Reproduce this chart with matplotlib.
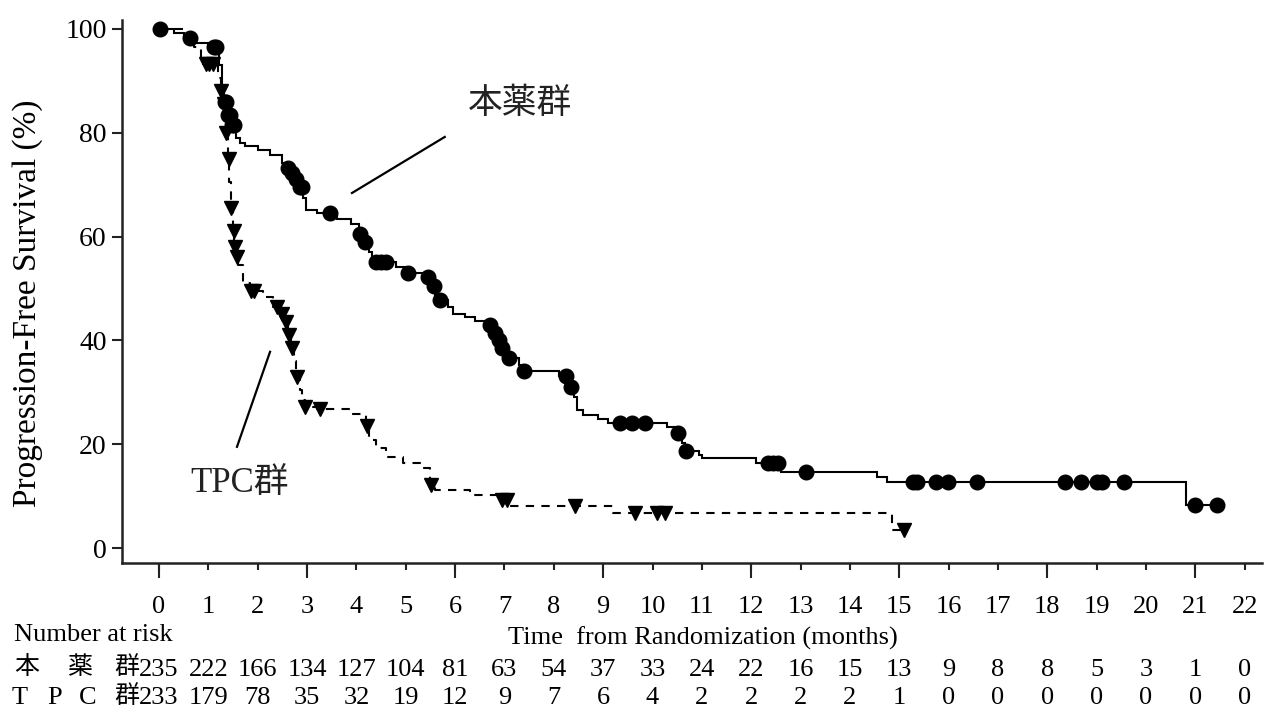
import matplotlib
matplotlib.use("Agg")
import numpy as np
import matplotlib.pyplot as plt
from matplotlib.transforms import blended_transform_factory

# ---------------- data ----------------
months = list(range(23))
risk_drug = [235, 222, 166, 134, 127, 104, 81, 63, 54, 37, 33, 24, 22, 16, 15, 13, 9, 8, 8, 5, 3, 1, 0]
risk_tpc = [233, 179, 78, 35, 32, 19, 12, 9, 7, 6, 4, 2, 2, 2, 2, 1, 0, 0, 0, 0, 0, 0, 0]

drug_t = [0, 0.3, 0.5, 0.75, 1.0, 1.22, 1.27, 1.32, 1.38, 1.45, 1.55, 1.65, 1.75, 2.0, 2.25,
          2.5, 2.6, 2.68, 2.76, 2.83, 2.92, 2.97, 3.2, 3.6, 3.9, 4.05, 4.15, 4.25, 4.32, 4.8,
          5.0, 5.4, 5.5, 5.6, 5.7, 5.85, 5.95, 6.2, 6.4, 6.6, 6.75, 6.85, 6.95, 7.05, 7.3, 7.38,
          8.1, 8.3, 8.4, 8.47, 8.6, 8.9, 9.1, 10.3, 10.5, 10.6, 10.65, 10.95, 11.0, 12.1, 12.6,
          14.55, 14.75, 20.8, 21.43]
drug_s = [100, 99.2, 98.3, 97.3, 96.5, 93, 89, 86, 83.5, 81.5, 79, 78, 77.5, 76.7, 75.8,
          74.2, 73.2, 72.2, 71, 69.5, 67.5, 65.2, 64.5, 63.4, 62.5, 60.5, 59, 57, 55.1, 54.2,
          53, 52.2, 50.5, 48.8, 47.8, 46.5, 45, 44.5, 43.8, 43, 41.5, 40, 38.5, 36.6, 35.2, 34.1,
          33.2, 31, 29, 26.6, 25.6, 24.9, 24.1, 23.3, 22.1, 20.3, 18.7, 17.9, 17.3, 16.4, 14.6,
          13.7, 12.7, 8.3, 8.3]
drug_cens_t = [0.02, 0.63, 1.12, 1.16, 1.33, 1.36, 1.40, 1.43, 1.47, 1.52, 2.62, 2.70, 2.78,
               2.85, 2.90, 3.46, 4.07, 4.17, 4.40, 4.50, 4.60, 5.04, 5.45, 5.58, 5.70, 6.70,
               6.80, 6.88, 6.95, 7.10, 7.40, 8.25, 8.35, 9.35, 9.58, 9.85, 10.52, 10.68, 12.35,
               12.45, 12.55, 13.10, 15.28, 15.36, 15.74, 15.98, 16.57, 18.36, 18.68, 19.00,
               19.10, 19.55, 21.00, 21.43]

tpc_t = [0, 0.5, 0.7, 0.85, 1.2, 1.25, 1.3, 1.35, 1.4, 1.42, 1.45, 1.5, 1.52, 1.55, 1.6,
         1.7, 1.85, 2.1, 2.3, 2.45, 2.55, 2.62, 2.68, 2.73, 2.78, 2.85, 2.9, 2.95, 3.2, 3.9,
         4.2, 4.25, 4.4, 4.6, 4.95, 5.3, 5.5, 5.6, 6.3, 6.9, 7.1, 9.2, 14.85, 15.1]
tpc_s = [100, 98.5, 96.5, 93.3, 90.5, 88, 85.5, 80, 75, 70.5, 65.5, 61, 58, 56, 54.5,
         51, 49.5, 48.3, 46.5, 45, 43.5, 41, 38.5, 36, 33, 30.5, 28.5, 27.2, 26.8, 25.8,
         23.5, 20.8, 19.3, 17.5, 16.4, 15.4, 12.1, 11.2, 10.2, 9.2, 8.1, 6.7, 3.5, 3.5]
tpc_cens_t = [0.95, 1.02, 1.10, 1.26, 1.31, 1.36, 1.41, 1.46, 1.51, 1.53, 1.58, 1.86, 1.93,
              2.40, 2.50, 2.58, 2.64, 2.70, 2.80, 2.96, 3.26, 4.21, 5.52, 6.95, 7.05, 8.43,
              9.64, 10.10, 10.25, 15.10]


def step_value(ts, ss, x):
    idx = np.searchsorted(ts, x, side="right") - 1
    return np.asarray(ss)[idx]


plt.rcParams["font.family"] = ["Liberation Serif", "Noto Sans CJK JP"]

W, H = 1272, 709
fig = plt.figure(figsize=(W / 100, H / 100), dpi=100)
ax = fig.add_axes([122 / W, 146 / H, 1140 / W, 543 / H])
ax.set_xlim(-0.75, 22.35)
ax.set_ylim(-2.89, 101.73)

# curves
ax.step(drug_t, drug_s, where="post", color="black", lw=1.5, solid_joinstyle="miter")
ax.step(tpc_t, tpc_s, where="post", color="black", lw=1.5, linestyle=(0, (4, 3.5)))
ax.plot(drug_cens_t, step_value(drug_t, drug_s, drug_cens_t), "o", color="black", ms=10.5,
        linestyle="none")
ax.plot(tpc_cens_t, step_value(tpc_t, tpc_s, tpc_cens_t), "v", color="black", ms=10.5,
        linestyle="none")

# annotations
ax.plot([3.91, 5.79], [68.4, 79.2], color="black", lw=1.6)
ax.text(7.31, 85.4, "本薬群", fontsize=25, ha="center", va="center", color="#222222")
ax.plot([1.58, 2.25], [19.5, 37.8], color="black", lw=1.6)
ax.text(1.64, 12.5, "TPC群", fontsize=25, ha="center", va="center", color="#222222")

# axes styling
for s in ["top", "right"]:
    ax.spines[s].set_visible(False)
for s in ["left", "bottom"]:
    ax.spines[s].set_linewidth(1.8)
    ax.spines[s].set_color("#222222")

ax.set_yticks([0, 20, 40, 60, 80, 100])
ax.tick_params(axis="y", direction="out", length=7, width=1.5, labelsize=20, pad=4,
               color="#222222")
ax.set_xticks(months)
ax.set_xticklabels([str(m) for m in months])
ax.set_xticks([0, 3, 6, 9, 12, 15, 18, 21], minor=True)
ax.xaxis.remove_overlapping_locs = False
ax.tick_params(axis="x", which="major", direction="out", length=5, width=1.5, labelsize=19,
               pad=18.5, color="#222222")
ax.tick_params(axis="x", which="minor", direction="out", length=10.5, width=1.5,
               color="#222222")

# labels
fig.text(28 / W, 1 - 303 / H, "Progression-Free Survival (%)", rotation=90, fontsize=24,
         ha="center", va="center")
fig.text(703 / W, 1 - 638 / H, "Time  from Randomization (months)", fontsize=19,
         ha="center", va="center")
fig.text(14 / W, 1 - 635 / H, "Number at risk", fontsize=19, ha="left", va="center")

# number at risk table
tr = blended_transform_factory(ax.transData, fig.transFigure)
for m, a, b in zip(months, risk_drug, risk_tpc):
    ax.text(m, 1 - 670.5 / H, str(a), transform=tr, fontsize=19, ha="center", va="center",
            clip_on=False)
    ax.text(m, 1 - 698.5 / H, str(b), transform=tr, fontsize=19, ha="center", va="center",
            clip_on=False)

for ch, x in zip(["本", "薬", "群"], [27, 80, 127]):
    fig.text(x / W, 1 - 668 / H, ch, fontsize=18, ha="center", va="center")
for ch, x in zip(["T", "P", "C"], [20, 55, 88]):
    fig.text(x / W, 1 - 698.5 / H, ch, fontsize=19, ha="center", va="center")
fig.text(127 / W, 1 - 697 / H, "群", fontsize=18, ha="center", va="center")

fig.savefig("out.png", dpi=100)
